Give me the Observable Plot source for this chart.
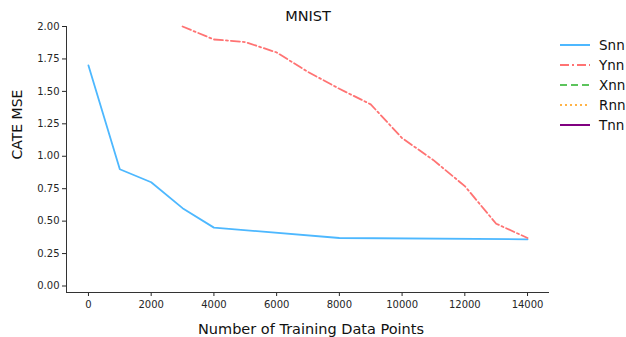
<!DOCTYPE html>
<html>
<head>
<meta charset="utf-8">
<script src="https://cdn.jsdelivr.net/npm/d3@7"></script>
<script src="https://cdn.jsdelivr.net/npm/@observablehq/plot@0.6"></script>
<style>
  html, body { margin: 0; padding: 0; background: #fff; }
  #wrap { position: relative; width: 626px; height: 337px; font-family: "DejaVu Sans", sans-serif; }
  #legend { position: absolute; left: 560px; top: 35px; font-size: 13.5px; color: #111; }
  #legend .item { display: flex; align-items: center; height: 20px; }
  #legend svg { margin-right: 9px; }
</style>
</head>
<body>
<div id="wrap"></div>
<script>
// Data
const seriesNames = ["Snn", "Ynn", "Xnn", "Rnn", "Tnn"];
const seriesColors = ["#4db8ff", "#ff7373", "#5cc45c", "#ffb347", "#800080"];
const seriesDash = [null, "9,3,2,3", "7,4", "2,3", null];

const snnX = [0, 1000, 2000, 3000, 4000, 8000, 14000];
const snnY = [1.70, 0.90, 0.80, 0.60, 0.45, 0.37, 0.36];

const ynnX = [3000, 4000, 5000, 6000, 7000, 8000, 9000, 10000, 11000, 12000, 13000, 14000];
const ynnY = [2.00, 1.90, 1.88, 1.80, 1.65, 1.52, 1.40, 1.14, 0.97, 0.77, 0.48, 0.37];

const xTicks = [0, 2000, 4000, 6000, 8000, 10000, 12000, 14000];
const yTicks = [0, 0.25, 0.5, 0.75, 1.0, 1.25, 1.5, 1.75, 2.0];

const titleText = "MNIST";
const xLabel = "Number of Training Data Points";
const yLabel = "CATE MSE";

const snn = snnX.map((x, i) => ({x, y: snnY[i], s: "Snn"}));
const ynn = ynnX.map((x, i) => ({x, y: ynnY[i], s: "Ynn"}));

const xDomain = [-700, 14700];
const yDomain = [-0.05, 2.0];

const chart = Plot.plot({
  width: 626,
  height: 337,
  marginLeft: 66,
  marginRight: 77,
  marginTop: 26,
  marginBottom: 45,
  style: { fontFamily: "DejaVu Sans, sans-serif", fontSize: "10px", color: "#262626", background: "white" },
  x: { domain: xDomain, ticks: xTicks, tickFormat: d => String(d), tickSize: 4, tickPadding: 4, label: null },
  y: { domain: yDomain, ticks: yTicks, tickFormat: d3.format(".2f"), tickSize: 4, tickPadding: 3, label: null },
  marks: [
    Plot.ruleX([xDomain[0]], {stroke: "#333", strokeWidth: 1}),
    Plot.ruleY([yDomain[0]], {stroke: "#333", strokeWidth: 1}),
    Plot.line(snn, {x: "x", y: "y", stroke: seriesColors[0], strokeWidth: 1.8}),
    Plot.line(ynn, {x: "x", y: "y", stroke: seriesColors[1], strokeWidth: 1.8, strokeDasharray: seriesDash[1]}),
    Plot.text([titleText], {frameAnchor: "top", lineAnchor: "middle", dy: -10.5, fontSize: 14.5, fill: "#111"}),
    Plot.text([xLabel], {frameAnchor: "bottom", lineAnchor: "middle", dy: 37, dx: 3, fontSize: 14.5, fill: "#111"}),
    Plot.text([yLabel], {frameAnchor: "left", lineAnchor: "middle", dx: -49, rotate: -90, fontSize: 14, fill: "#111"})
  ]
});

const wrap = document.getElementById("wrap");
wrap.appendChild(chart);

// Legend
const legend = document.createElement("div");
legend.id = "legend";
seriesNames.forEach((name, i) => {
  const item = document.createElement("div");
  item.className = "item";
  const dash = seriesDash[i] ? `stroke-dasharray="${seriesDash[i]}"` : "";
  item.innerHTML = `<svg width="30" height="10"><line x1="0" y1="5" x2="30" y2="5" stroke="${seriesColors[i]}" stroke-width="2" ${dash}/></svg><span>${name}</span>`;
  legend.appendChild(item);
});
wrap.appendChild(legend);
</script>
</body>
</html>
